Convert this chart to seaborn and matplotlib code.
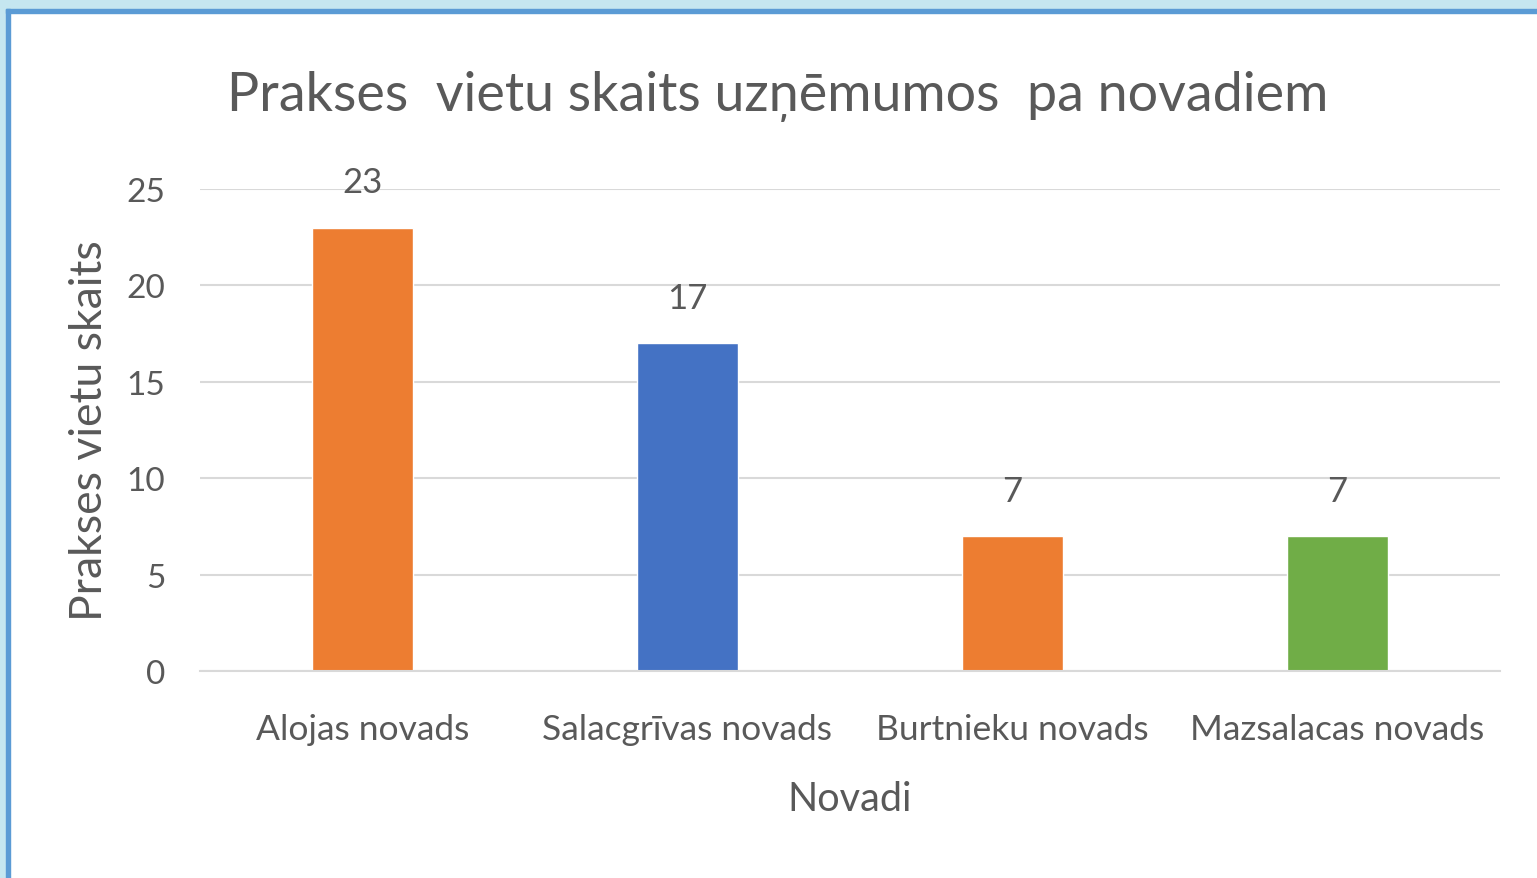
import seaborn as sns
import matplotlib.pyplot as plt
import matplotlib.patches as mpatches
import pandas as pd

novadi = ['Alojas novads', 'Salacgrīvas novads', 'Burtnieku novads', 'Mazsalacas novads']
skaits = [23, 17, 7, 7]
krasas = ['#ED7D31', '#4472C4', '#ED7D31', '#70AD47']

df = pd.DataFrame({'novads': novadi, 'skaits': skaits})

sns.set_theme(style='white')
plt.rcParams['font.family'] = ['Lato', 'DejaVu Sans']
teksts = '#595959'

fig = plt.figure(figsize=(15.37, 8.79), dpi=100)
fig.patch.set_facecolor('white')

# frame around the picture
fig.add_artist(mpatches.Rectangle((0, 1 - 10 / 879), 1, 10 / 879, transform=fig.transFigure,
                                  color='#C5E6F0', zorder=0))
fig.add_artist(mpatches.Rectangle((0, 0), 6 / 1537, 1, transform=fig.transFigure,
                                  color='#C5E6F0', zorder=0))
fig.add_artist(mpatches.Rectangle((6 / 1537, 1 - 14 / 879), 1, 4 / 879, transform=fig.transFigure,
                                  color='#5B9BD5', zorder=1))
fig.add_artist(mpatches.Rectangle((6 / 1537, 0), 4 / 1537, 1 - 10 / 879, transform=fig.transFigure,
                                  color='#5B9BD5', zorder=1))

ax = fig.add_axes([200 / 1537, 1 - 672 / 879, 1300 / 1537, (672 - 190) / 879])
sns.barplot(data=df, x='novads', y='skaits', hue='novads', palette=krasas,
            width=0.31, legend=False, ax=ax, saturation=1)

ax.set_ylim(0, 25)
ax.set_yticks([0, 5, 10, 15, 20, 25])
ax.yaxis.grid(True, color='#D9D9D9', linewidth=1.5)
ax.set_axisbelow(True)
for s in ['top', 'right', 'left']:
    ax.spines[s].set_visible(False)
ax.spines['bottom'].set_color('#D9D9D9')
ax.spines['bottom'].set_linewidth(1.5)
ax.tick_params(axis='y', length=0, labelsize=24, colors=teksts, pad=25)
ax.tick_params(axis='x', length=0, labelsize=25.5, colors=teksts, pad=30)

for c in ax.containers:
    ax.bar_label(c, padding=21, fontsize=25, color=teksts)

ax.set_xlabel('Novadi', fontsize=28.5, color=teksts, va='center')
ax.set_ylabel('Prakses vietu skaits', fontsize=32, color=teksts, va='center')
ax.xaxis.set_label_coords(0.5, -(800 - 672) / 482)
ax.yaxis.set_label_coords((90 - 200) / 1300, 0.5)
fig.text(0.506, 1 - 97 / 879, 'Prakses  vietu skaits uzņēmumos  pa novadiem',
         ha='center', va='center', fontsize=38.8, color=teksts)

fig.savefig('out.png', dpi=100, facecolor='white')
